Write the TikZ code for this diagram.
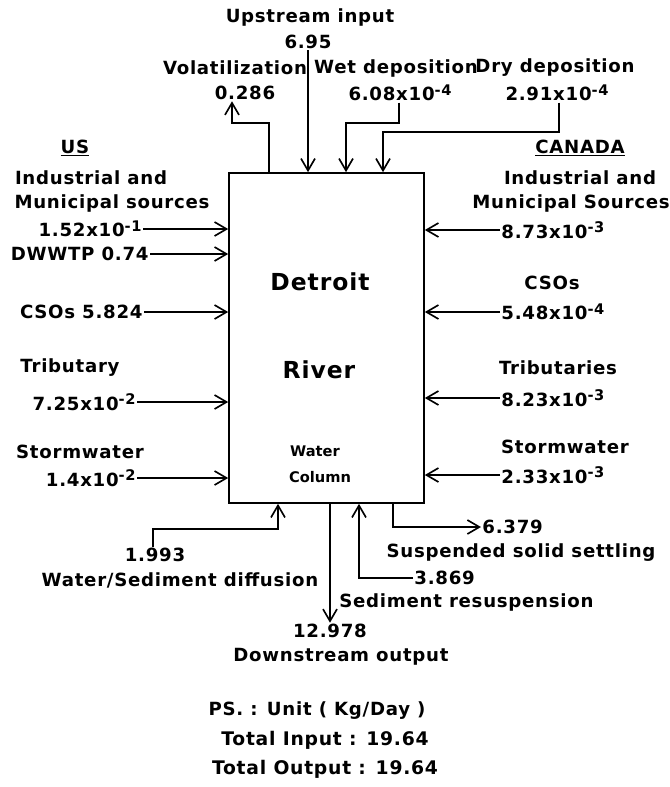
\documentclass[tikz,border=0pt]{standalone}
\usepackage{fontspec}
\setmainfont{DejaVu Sans}
\newfontfamily\chifont{DejaVu Sans}[LetterSpace=4]
\usetikzlibrary{arrows.meta}
\newcommand{\expo}[1]{\raisebox{0.55ex}{\fontsize{12.5}{13}\selectfont #1}}

\begin{document}
\begin{tikzpicture}[x=0.03cm, y=-0.03cm,
    lbl/.style={inner sep=1pt, font=\chifont\bfseries\fontsize{15.5}{17}\selectfont},
    big/.style={inner sep=1pt, font=\chifont\bfseries\fontsize{20}{24}\selectfont},
    small/.style={inner sep=1pt, font=\bfseries\fontsize{12.5}{14}\selectfont},
    total/.style={inner sep=1pt, font=\chifont\bfseries\fontsize{16}{19}\selectfont},
    flow/.style={-{Straight Barb[length=3.6mm,width=4.2mm]}, line width=1.4pt},
    riverbox/.style={draw, line width=1.4pt, minimum width=5.85cm, minimum height=9.9cm, inner sep=0pt}]

    \useasboundingbox (0,0) rectangle (669,787);

    % River box
    \node[riverbox] (river) at (326.5,338) {};
    \node[big] (detroit) at (320,282) {Detroit};
    \node[big] (rivername) at (319,370) {River};
    \node[small] (water) at (315,451) {Water};
    \node[small] (column) at (320,477) {Column};

    % Top inputs and outputs
    \node[lbl] (uptxt) at (310,17) {Upstream input};
    \node[lbl] (upval) at (308,42) {6.95};
    \node[lbl] (voltxt) at (235,68) {Volatilization};
    \node[lbl] (volval) at (245,93) {0.286};
    \node[lbl] (wettxt) at (396,68) {Wet deposition};
    \node[lbl] (wetval) at (400,93) {6.08x10\expo{-4}};
    \node[lbl] (drytxt) at (555,68) {Dry deposition};
    \node[lbl] (dryval) at (557,93) {2.91x10\expo{-4}};

    % US sources
    \node[lbl] (us) at (75,148) {\underline{US}};
    \node[lbl] (usind1) at (91,178) {Industrial and};
    \node[lbl] (usind2) at (112,203) {Municipal sources};
    \node[lbl, anchor=east] (usind) at (143,229) {1.52x10\expo{-1}};
    \node[lbl, anchor=east] (usdw) at (150,254) {DWWTP 0.74};
    \node[lbl, anchor=east] (uscso) at (144,312) {CSOs 5.824};
    \node[lbl] (ustribtxt) at (70,368) {Tributary};
    \node[lbl, anchor=east] (ustrib) at (137,402) {7.25x10\expo{-2}};
    \node[lbl] (usstormtxt) at (80,452) {Stormwater};
    \node[lbl, anchor=east] (usstorm) at (137,478) {1.4x10\expo{-2}};

    % Canada sources
    \node[lbl] (ca) at (580,148) {\underline{CANADA}};
    \node[lbl] (caind1) at (580,178) {Industrial and};
    \node[lbl] (caind2) at (571,203) {Municipal Sources};
    \node[lbl, anchor=west] (caind) at (500,230) {8.73x10\expo{-3}};
    \node[lbl] (cacsotxt) at (552,283) {CSOs};
    \node[lbl, anchor=west] (cacso) at (500,312) {5.48x10\expo{-4}};
    \node[lbl] (catribtxt) at (558,368) {Tributaries};
    \node[lbl, anchor=west] (catrib) at (500,398) {8.23x10\expo{-3}};
    \node[lbl] (castormtxt) at (565,447) {Stormwater};
    \node[lbl, anchor=west] (castorm) at (500,475) {2.33x10\expo{-3}};

    % Bottom exchanges
    \node[lbl] (diffval) at (155,555) {1.993};
    \node[lbl] (difftxt) at (180,580) {Water/Sediment diffusion};
    \node[lbl, anchor=west] (setval) at (481,527) {6.379};
    \node[lbl] (settxt) at (521,553) {Suspended solid settling};
    \node[lbl, anchor=west] (resval) at (413,578) {3.869};
    \node[lbl, anchor=west] (restxt) at (338,602) {Sediment resuspension};
    \node[lbl] (downval) at (330,631) {12.978};
    \node[lbl] (downtxt) at (341,657) {Downstream output};

    % Units and totals
    \node[lbl] (unit) at (317,711) {PS. : Unit ( Kg/Day )};
    \node[total] (totin) at (325,740) {Total Input : 19.64};
    \node[total] (totout) at (325,769) {Total Output : 19.64};

    % Arrows at the top
    \draw[flow] (upval.south) -- (upval.south |- river.north);
    \draw[flow] (river.north -| 269,0) |- (232,123) -- (232,123 |- volval.south);
    \draw[flow] (wetval.south -| 399,0) |- (346,123) -- (346,123 |- river.north);
    \draw[flow] (dryval.south -| 559,0) |- (383,132) -- (383,132 |- river.north);

    % Arrows from the US side
    \draw[flow] (usind.east) -- (usind.east -| river.west);
    \draw[flow] (usdw.east) -- (usdw.east -| river.west);
    \draw[flow] (uscso.east) -- (uscso.east -| river.west);
    \draw[flow] (ustrib.east) -- (ustrib.east -| river.west);
    \draw[flow] (usstorm.east) -- (usstorm.east -| river.west);

    % Arrows from the Canada side
    \draw[flow] (caind.west) -- (caind.west -| river.east);
    \draw[flow] (cacso.west) -- (cacso.west -| river.east);
    \draw[flow] (catrib.west) -- (catrib.west -| river.east);
    \draw[flow] (castorm.west) -- (castorm.west -| river.east);

    % Arrows at the bottom
    \draw[flow] (diffval.north -| 153,0) |- (278,529) -- (278,529 |- river.south);
    \draw[flow] (river.south -| 393,0) |- (setval.west);
    \draw[flow] (resval.west) -| (river.south -| 359,0);
    \draw[flow] (downval.north |- river.south) -- (downval.north);
\end{tikzpicture}
\end{document}
